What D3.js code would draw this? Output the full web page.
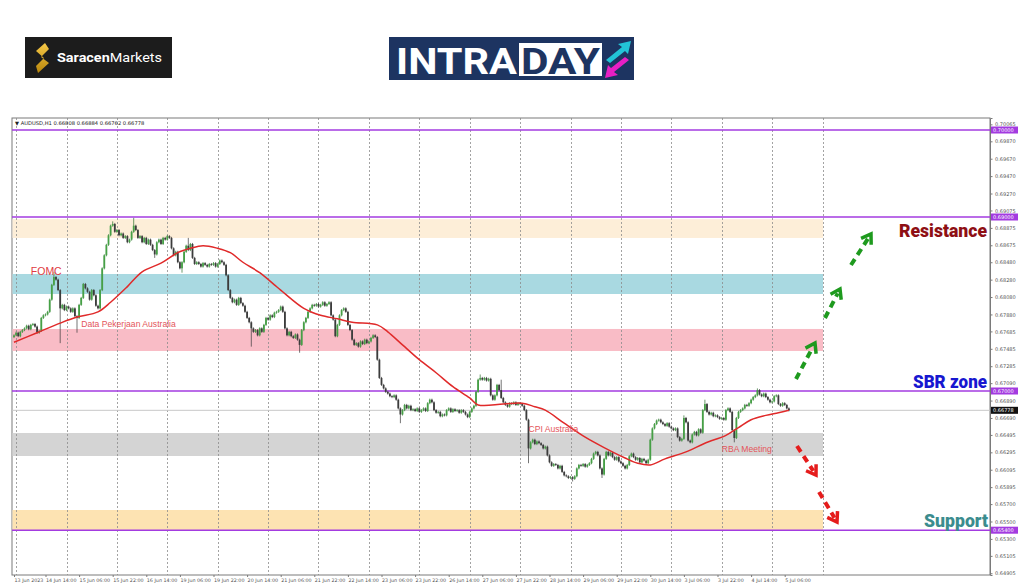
<!DOCTYPE html>
<html><head><meta charset="utf-8">
<script src="https://cdn.jsdelivr.net/npm/d3@7"></script>
<style>body{margin:0;background:#fff}svg{display:block}</style>
</head><body>
<svg id="c" width="1024" height="587"></svg>
<script>
// ---------------- DATA ----------------
const closes = [
0.6764,0.6767,0.6763,0.6768,
0.6770,0.6772,0.6775,0.6771,0.6776,0.6777,0.6774,
0.6767,0.6769,
0.6784,0.6787,0.6788,0.6791,
0.6805,0.6822,0.6831,
0.6828,0.6816,0.6795,
0.6799,0.6793,0.6797,0.6795,0.6791,0.6795,
0.6786,0.6784,
0.6799,0.6807,
0.6823,0.6818,
0.6814,0.6805,0.6816,0.6810,0.6798,
0.6795,
0.6816,0.6841,
0.6856,0.6868,0.6879,0.6890,
0.6892,0.6883,0.6885,
0.6879,0.6881,0.6876,0.6878,0.6871,0.6874,
0.6883,0.6890,0.6885,0.6876,
0.6878,0.6871,0.6876,0.6869,0.6874,0.6868,
0.6862,0.6857,
0.6871,0.6874,0.6869,0.6876,0.6874,0.6878,0.6876,
0.6864,0.6856,0.6860,
0.6848,0.6841,0.6848,
0.6860,0.6867,0.6862,0.6869,
0.6853,0.6846,0.6848,
0.6846,0.6843,0.6847,0.6845,0.6843,0.6846,0.6845,0.6847,0.6843,0.6846,0.6850,0.6848,
0.6845,0.6833,
0.6816,0.6807,
0.6802,0.6805,0.6799,0.6807,0.6801,0.6798,
0.6791,0.6784,0.6779,0.6772,0.6768,
0.6770,0.6764,0.6772,0.6768,0.6776,
0.6784,0.6782,0.6787,0.6785,0.6790,
0.6791,0.6793,0.6797,0.6791,
0.6772,0.6764,0.6768,
0.6763,0.6761,0.6765,0.6759,0.6753,
0.6770,0.6779,0.6784,
0.6791,0.6795,0.6799,
0.6798,0.6800,0.6797,0.6799,0.6802,0.6798,0.6800,0.6802,
0.6787,0.6782,
0.6763,
0.6776,0.6787,
0.6793,0.6795,0.6791,
0.6776,0.6770,
0.6759,0.6753,0.6755,0.6751,
0.6757,0.6754,0.6759,0.6755,0.6757,0.6761,
0.6764,0.6762,
0.6736,0.6715,
0.6707,0.6703,0.6699,
0.6697,0.6694,0.6693,0.6695,0.6690,
0.6680,0.6673,0.6678,
0.6684,0.6680,0.6683,0.6678,
0.6679,0.6677,0.6680,0.6676,0.6678,0.6680,0.6677,
0.6686,0.6690,0.6687,
0.6678,0.6675,0.6676,
0.6671,0.6673,0.6672,
0.6678,0.6680,0.6676,0.6679,0.6677,0.6678,0.6675,0.6678,0.6676,0.6673,0.6670,
0.6676,0.6680,0.6683,
0.6699,0.6713,0.6715,
0.6713,0.6715,0.6712,0.6714,
0.6695,0.6690,
0.6695,0.6707,0.6701,0.6692,
0.6687,0.6684,0.6682,
0.6686,0.6685,0.6687,0.6684,0.6686,0.6685,0.6683,
0.6678,0.6667,
0.6634,
0.6641,0.6644,0.6639,0.6642,0.6640,
0.6638,0.6634,0.6636,
0.6626,0.6618,0.6614,0.6616,
0.6615,0.6611,0.6614,
0.6607,0.6603,0.6602,0.6600,0.6601,0.6599,0.6602,
0.6611,0.6615,
0.6614,0.6616,0.6613,0.6615,0.6617,
0.6622,0.6628,0.6630,0.6626,
0.6611,0.6604,
0.6622,0.6630,0.6626,0.6629,
0.6624,0.6621,0.6624,0.6619,0.6617,
0.6614,0.6611,0.6615,
0.6625,0.6628,0.6624,
0.6621,0.6623,0.6618,0.6622,0.6620,
0.6617,0.6621,
0.6644,0.6657,0.6662,
0.6666,0.6667,0.6664,
0.6662,0.6660,0.6663,0.6659,
0.6657,0.6655,0.6657,
0.6647,0.6643,0.6645,
0.6669,0.6664,
0.6643,0.6641,
0.6650,0.6653,0.6649,0.6656,0.6652,
0.6678,0.6685,
0.6676,0.6673,0.6675,0.6671,0.6672,
0.6670,0.6668,0.6669,0.6667,
0.6678,0.6680,0.6676,
0.6655,0.6646,
0.6669,0.6676,0.6678,
0.6680,0.6684,0.6683,0.6686,
0.6690,0.6693,0.6695,0.6701,
0.6696,0.6694,0.6697,0.6693,
0.6690,0.6687,0.6688,
0.6694,0.6695,
0.6685,0.6683,0.6686,
0.6684,0.6680,0.66778
];
const firstOpen = 0.6762;
const wickPad = 0.00012;
const highIdx = [19, 47, 57, 83, 222, 232, 319, 329, 354];
const highVal = [0.6837, 0.6895, 0.6899, 0.6876, 0.6719, 0.6713, 0.6672, 0.6690, 0.6703];
const lowIdx  = [22, 30, 67, 80, 113, 136, 184, 245, 266, 280, 343];
const lowVal  = [0.6755, 0.6767, 0.6853, 0.6836, 0.6751, 0.6744, 0.6663, 0.6617, 0.6596, 0.6600, 0.6641];

const maIdx = [0,11,22,30,40,46,54,61,70,78,84,90,97,103,109,117,124,127,138,146,154,161,173,178,185,193,201,209,217,221,233,242,248,253,262,272,281,291,297,303,310,320,329,339,345,351,358,364,369];
const maVal = [0.6756,0.6767,0.6778,0.6785,0.6791,0.6802,0.6820,0.6837,0.6847,0.6859,0.6864,0.6867,0.6864,0.6859,0.6848,0.6836,0.6822,0.6816,0.6795,0.6787,0.6783,0.6779,0.6776,0.6768,0.6753,0.6736,0.6721,0.6705,0.6692,0.6684,0.6685,0.6686,0.6682,0.6678,0.6663,0.6647,0.6635,0.6623,0.6617,0.6615,0.6622,0.6630,0.6640,0.6649,0.6658,0.6667,0.6672,0.6675,0.66778];

const priceTicks = [0.70065,0.69870,0.69670,0.69470,0.69270,0.69075,0.68875,0.68675,0.68480,0.68280,0.68080,0.67880,0.67685,0.67485,0.67285,0.67090,0.66890,0.66690,0.66495,0.66295,0.66095,0.65895,0.65700,0.65500,0.65300,0.65105,0.64905];
const levelLines = [0.70000, 0.69000, 0.67000, 0.65400];
const currentPrice = 0.66778;

const bandTop    = [0.68975, 0.68345, 0.67713, 0.66517, 0.65632];
const bandBottom = [0.68759, 0.68115, 0.67460, 0.66253, 0.65402];
const bandColors = ["#fdeed8", "#a9d9e1", "#f9bcc6", "#d4d4d4", "#fde3b2"];

const timeLabels = ["13 Jun 2023","14 Jun 14:00","15 Jun 06:00","15 Jun 22:00","16 Jun 14:00","19 Jun 06:00","19 Jun 22:00","20 Jun 14:00","21 Jun 06:00","21 Jun 22:00","22 Jun 14:00","23 Jun 06:00","23 Jun 22:00","26 Jun 14:00","27 Jun 06:00","27 Jun 22:00","28 Jun 14:00","29 Jun 06:00","29 Jun 22:00","30 Jun 14:00","3 Jul 06:00","3 Jul 22:00","4 Jul 14:00","5 Jul 06:00"];
const timeLabelBars = [0,15,31,47,63,79,95,111,127,143,159,175,191,207,223,239,255,271,287,303,319,335,351,367];
const gridBars = [1,25,49,73,97,121,145,169,193,217,241,265,289,313,337,361,385];

const eventNames = ["FOMC","Data Pekerjaan Australia","CPI Australia","RBA Meeting"];
const eventBars  = [8, 32, 245, 337];
const eventPrices= [0.6833, 0.6774, 0.6653, 0.6630];

// ---------------- DRAW ----------------
const svg = d3.select("#c");
const L = 12, R = 990, T = 118, B = 575;
const y = d3.scaleLinear().domain([0.64885, 0.70138]).range([B, T]);
const x = d3.scaleLinear().domain([0, 369]).range([14, 14 + 369 * 2.1]);

// logos
const logo = svg.append("g");
logo.append("rect").attr("x",25).attr("y",37).attr("width",147).attr("height",41).attr("fill","#1c1c1c");
const gold = svg.append("defs").append("linearGradient").attr("id","gold").attr("x1",0).attr("y1",0).attr("x2",0).attr("y2",1);
gold.append("stop").attr("offset","0").attr("stop-color","#f7c948");
gold.append("stop").attr("offset","1").attr("stop-color","#b8860b");
logo.append("path").attr("d","M45,43 L36,51 L44,58 L36,66 L38,73 L49,63 L41,57 L49,49 Z").attr("fill","url(#gold)");
logo.append("text").attr("x",57).attr("y",62).attr("font-family","Roboto, 'Open Sans', sans-serif").attr("font-size",13).attr("fill","#fff")
  .attr("textLength",105).attr("lengthAdjust","spacingAndGlyphs")
  .call(t=>{t.append("tspan").attr("font-weight",700).text("Saracen");t.append("tspan").attr("font-weight",400).text("Markets");});

logo.append("rect").attr("x",389).attr("y",37).attr("width",245).attr("height",43).attr("fill","#1d3461");
logo.append("text").attr("x",396).attr("y",74).attr("font-family","Roboto, 'Liberation Sans', sans-serif").attr("font-weight",700).attr("font-size",36)
  .attr("fill","#fff").attr("textLength",121).attr("lengthAdjust","spacingAndGlyphs").text("INTRA");
logo.append("rect").attr("x",519).attr("y",43).attr("width",83).attr("height",33).attr("fill","#fff");
logo.append("text").attr("x",521).attr("y",74).attr("font-family","Roboto, 'Liberation Sans', sans-serif").attr("font-weight",700).attr("font-size",36)
  .attr("fill","#1d3461").attr("textLength",79).attr("lengthAdjust","spacingAndGlyphs").text("DAY");
logo.append("path").attr("d","M606,60 L622,47 L618,44 L631,41 L628,54 L625,51 L610,63 Z").attr("fill","#22c4d6");
logo.append("path").attr("d","M629,60 L614,72 L618,75 L605,78 L608,65 L611,68 L625,57 Z").attr("fill","#e81fc4");

// plot frame
svg.append("rect").attr("x",L).attr("y",T).attr("width",R-L).attr("height",B-T).attr("fill","#fff").attr("stroke","#7a7a7a").attr("stroke-width",1);

// bands
svg.append("g").selectAll("rect").data(bandTop).join("rect")
  .attr("x", L+0.5).attr("width", x(385) - L)
  .attr("y", d => y(d)).attr("height", (d,i) => y(bandBottom[i]) - y(d))
  .attr("fill", (d,i) => bandColors[i]);

// vertical grid
svg.append("g").selectAll("line").data(gridBars).join("line")
  .attr("x1", d => Math.round(x(d))+0.5).attr("x2", d => Math.round(x(d))+0.5)
  .attr("y1", T).attr("y2", B)
  .attr("stroke","#8c8c8c").attr("stroke-width",0.8).attr("stroke-dasharray","2,2");

// current price line
svg.append("line").attr("x1",L).attr("x2",R).attr("y1",y(currentPrice)).attr("y2",y(currentPrice)).attr("stroke","#c8c8c8").attr("stroke-width",1);

// level lines
svg.append("g").selectAll("line").data(levelLines).join("line")
  .attr("x1",L).attr("x2",R).attr("y1",d=>y(d)).attr("y2",d=>y(d))
  .attr("stroke","#a33be0").attr("stroke-width",1.5);

// candles
const candles = closes.map((c,i) => {
  const o = i === 0 ? firstOpen : closes[i-1];
  let h = Math.max(o,c) + wickPad, l = Math.min(o,c) - wickPad;
  const hi = highIdx.indexOf(i); if (hi >= 0) h = Math.max(h, highVal[hi]);
  const li = lowIdx.indexOf(i); if (li >= 0) l = Math.min(l, lowVal[li]);
  return {i, o, h, l, c};
});
const cg = svg.append("g");
cg.selectAll("line").data(candles).join("line")
  .attr("x1", d => x(d.i)).attr("x2", d => x(d.i))
  .attr("y1", d => y(d.h)).attr("y2", d => y(d.l))
  .attr("stroke", d => d.c >= d.o ? "#2d6e2d" : "#3a3a3a").attr("stroke-width",0.7);
cg.selectAll("rect").data(candles).join("rect")
  .attr("x", d => x(d.i) - 0.9).attr("width", 1.8)
  .attr("y", d => y(Math.max(d.o,d.c)))
  .attr("height", d => Math.max(0.6, Math.abs(y(d.o) - y(d.c))))
  .attr("fill", d => d.c >= d.o ? "#46a046" : "#3c3c3c");

// moving average
svg.append("path").datum(maIdx.map((d,i)=>[d, maVal[i]]))
  .attr("d", d3.line().x(d=>x(d[0])).y(d=>y(d[1])).curve(d3.curveCatmullRom))
  .attr("fill","none").attr("stroke","#e02a2a").attr("stroke-width",1.5);

// header
svg.append("text").attr("x",15).attr("y",124.5).attr("font-family","'DejaVu Sans', sans-serif").attr("font-size",5.2).attr("fill","#222")
  .text("\u25BC AUDUSD,H1  0.66808 0.66884 0.66762 0.66778");

// price axis
const ay = svg.append("g").attr("transform",`translate(${R},0)`)
  .call(d3.axisRight(y).tickValues(priceTicks).tickFormat(d3.format(".5f")).tickSize(2.5).tickPadding(2.5));
ay.select(".domain").attr("stroke","#7a7a7a");
ay.selectAll(".tick line").attr("stroke","#7a7a7a");
ay.selectAll("text").attr("font-family","'DejaVu Sans', sans-serif").attr("font-size",5).attr("fill","#555");

// highlighted price labels
const hl = svg.append("g");
levelLines.forEach(p => {
  hl.append("rect").attr("x",R+1).attr("y",y(p)-3.5).attr("width",27).attr("height",7).attr("fill","#a33be0");
  hl.append("text").attr("x",R+3).attr("y",y(p)+2).attr("font-family","'DejaVu Sans', sans-serif").attr("font-size",5).attr("fill","#fff").text(d3.format(".5f")(p));
});
hl.append("rect").attr("x",R+1).attr("y",y(currentPrice)-3.5).attr("width",27).attr("height",7).attr("fill","#111");
hl.append("text").attr("x",R+3).attr("y",y(currentPrice)+2).attr("font-family","'DejaVu Sans', sans-serif").attr("font-size",5).attr("fill","#fff").text(d3.format(".5f")(currentPrice));

// time axis
const ax = svg.append("g").attr("transform",`translate(0,${B})`)
  .call(d3.axisBottom(x).tickValues(timeLabelBars).tickFormat((d,i)=>timeLabels[i]).tickSize(2).tickPadding(2));
ax.select(".domain").remove();
ax.selectAll(".tick line").attr("stroke","#7a7a7a");
ax.selectAll("text").attr("text-anchor","start").attr("font-family","'DejaVu Sans', sans-serif").attr("font-size",4.8).attr("fill","#555");

// event annotations
const ev = svg.append("g").attr("font-family","'Liberation Sans', Arial, sans-serif");
const evSizes = [10.5, 8.6, 8.6, 8.6];
const evWeights = [400, 400, 400, 400];
const evColors = ["#e03a42", "#e4555a", "#e4555a", "#e4555a"];
ev.selectAll("text").data(eventNames).join("text")
  .attr("x",(d,i)=>x(eventBars[i])).attr("y",(d,i)=>y(eventPrices[i]))
  .attr("font-size",(d,i)=>evSizes[i]).attr("font-weight",(d,i)=>evWeights[i]).attr("fill",(d,i)=>evColors[i]).text(d=>d);

// zone labels
const zoneNames = ["Resistance","SBR zone","Support"];
const zoneColors = ["#8e0f14","#1717d0","#3b8c8e"];
const zoneRight = [987, 987, 988];
const zoneBase = [237, 388, 527];
const zoneWidth = [88, 74, 64];
svg.append("g").selectAll("text").data(zoneNames).join("text")
  .attr("x",(d,i)=>zoneRight[i]-zoneWidth[i]).attr("y",(d,i)=>zoneBase[i])
  .attr("font-family","Roboto, 'Liberation Sans', sans-serif").attr("font-weight",900).attr("font-size",18)
  .attr("textLength",(d,i)=>zoneWidth[i]).attr("lengthAdjust","spacingAndGlyphs")
  .attr("fill",(d,i)=>zoneColors[i]).text(d=>d);

// arrows
const arrowTail = [[796,379],[825,318],[851,265],[797,446],[819,492]];
const arrowTip  = [[815,343],[840,289],[871,234],[816,475],[837,522]];
const arrowColor = ["#1e9a1e","#1e9a1e","#1e9a1e","#e51c1c","#e51c1c"];
const ag = svg.append("g");
arrowTail.forEach((t,i) => {
  const tip = arrowTip[i];
  const dx = tip[0]-t[0], dy = tip[1]-t[1], len = Math.hypot(dx,dy);
  const ux = dx/len, uy = dy/len, px = -uy, py = ux;
  const hb = [tip[0]-ux*9, tip[1]-uy*9];
  ag.append("line").attr("x1",t[0]).attr("y1",t[1]).attr("x2",tip[0]-ux*5).attr("y2",tip[1]-uy*5)
    .attr("stroke",arrowColor[i]).attr("stroke-width",4).attr("stroke-dasharray","7,5");
  ag.append("path").attr("d",`M${hb[0]+px*6},${hb[1]+py*6} L${tip[0]},${tip[1]} L${hb[0]-px*6},${hb[1]-py*6}`)
    .attr("fill","none").attr("stroke",arrowColor[i]).attr("stroke-width",3.5);
});
</script>
</body></html>
